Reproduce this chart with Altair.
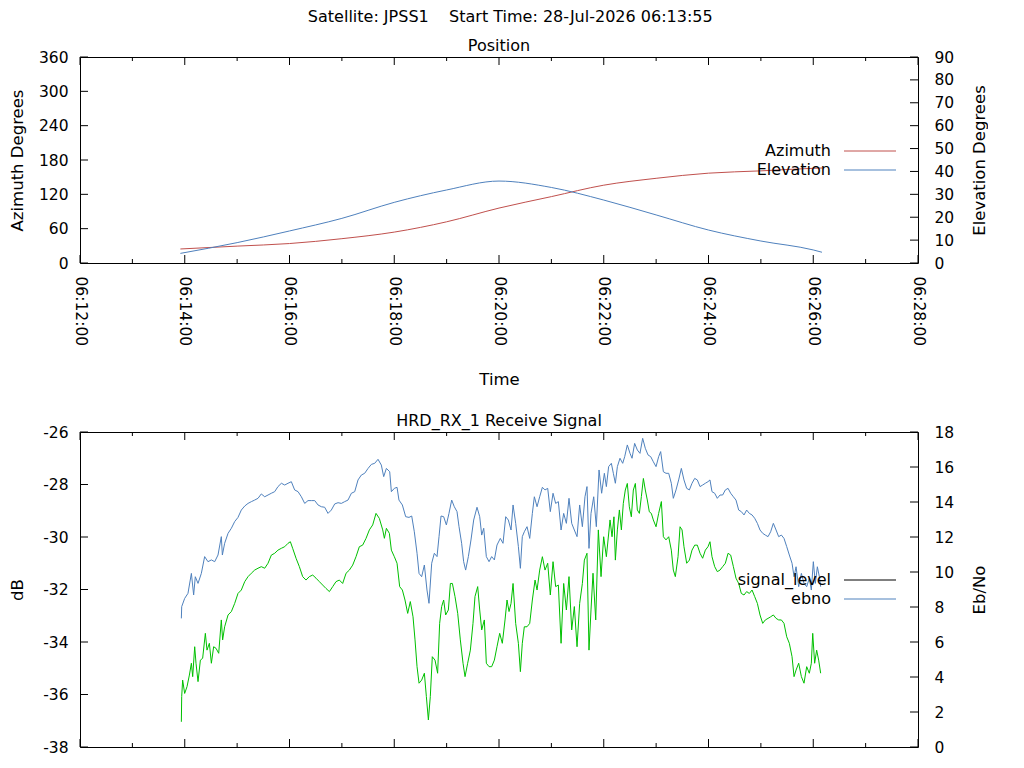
import altair as alt
import pandas as pd

BASE = pd.Timestamp("2026-07-28 06:12:00")

# ---------------- Position (seconds after 06:12:00) ----------------
pos_sec = [115, 180, 240, 300, 360, 420, 480, 540, 600, 660, 720, 780, 840, 850]
azimuth = [24.5, 29.5, 34.0, 42.5, 54.0, 72.0, 96.0, 116.0, 136.0, 148.0, 157.0, 161.0, 165.5, 166.0]
elevation = [4.2, 8.9, 14.0, 19.5, 26.5, 31.9, 35.8, 33.0, 27.5, 21.0, 14.4, 9.6, 5.7, 4.7]

# ---------------- Receive signal ----------------
ebno_sec = [
    116.1, 116.5, 119.9, 123.7, 127.6, 130.2, 132.1, 135.2, 139.0, 142.8, 146.6, 150.5, 154.3, 158.1,
    161.9, 163.1, 165.7, 169.6, 173.4, 177.2, 181.0, 184.8, 188.7, 192.5, 196.3, 200.1, 203.9, 207.7,
    211.6, 215.4, 219.2, 223.0, 226.8, 230.7, 234.5, 238.3, 242.1, 245.9, 249.8, 253.6, 257.4, 261.2,
    265.0, 268.9, 272.7, 276.5, 280.3, 284.1, 287.9, 291.8, 295.6, 299.4, 303.2, 307.0, 310.9, 314.7,
    318.5, 322.3, 326.1, 330.0, 333.8, 337.6, 341.4, 345.2, 347.9, 351.0, 354.8, 356.7,
    360.1, 363.2, 365.4, 369.3, 373.1, 376.9, 380.0, 383.0, 386.1, 388.4, 391.4, 394.5, 397.5, 399.8,
    402.9, 405.9, 409.0, 411.3, 413.6, 416.6, 419.7, 422.7, 425.8, 428.8, 431.9, 434.2, 437.2, 439.5,
    441.8, 444.9, 447.9, 451.0, 454.8, 457.9, 460.2, 462.5, 465.5, 468.6, 471.6, 474.7, 477.7, 481.5,
    484.6, 487.7, 490.7, 493.8, 496.1, 499.1, 502.2, 504.5, 506.7, 509.0, 512.1, 515.2, 518.2, 520.5,
    523.6, 526.6, 529.7, 532.7, 535.8, 538.8, 541.9, 544.9, 548.0, 551.1, 554.1, 557.2, 560.2, 563.3,
    566.3, 569.4, 572.4, 575.5, 578.5, 580.8, 583.1, 585.4, 588.5, 591.5, 594.6, 597.6, 600.7, 603.0,
    605.6, 608.7, 611.0, 613.3, 615.6, 618.6, 621.7, 624.0, 627.0, 630.1, 632.4, 635.4, 638.5, 641.5,
    644.6, 647.6, 650.7, 653.8, 656.8, 659.9, 662.9, 665.2, 668.3, 671.3, 674.4, 677.4, 679.7, 682.8,
    685.8, 688.9, 691.9, 695.0, 698.1, 701.1, 704.2, 707.2, 710.3, 713.3, 716.4, 719.4, 721.7, 724.0,
    727.1, 730.1, 733.2, 736.2, 739.3, 742.4, 745.4, 748.5, 751.5, 754.6, 757.6, 760.7, 763.7, 766.8,
    769.9, 772.9, 776.0, 779.0, 782.1, 785.1, 788.2, 791.2, 794.3, 797.4, 800.4, 803.5, 806.5, 809.6,
    812.6, 815.7, 818.0, 820.3, 823.3, 826.4, 829.4, 832.5, 835.5, 837.8, 840.1, 842.4, 844.7, 847.0, 848.5,
]
ebno_val = [
    7.35, 8.02, 8.49, 8.78, 9.92, 8.69, 9.73, 9.35, 9.92, 10.88, 10.59, 10.69, 10.59, 10.97,
    12.02, 10.97, 11.64, 12.21, 12.50, 12.88, 13.12, 13.54, 13.77, 13.92, 14.02, 14.11, 14.21, 14.46,
    14.30, 14.40, 14.50, 14.59, 14.88, 15.07, 14.97, 15.07, 15.16, 14.69, 14.59, 14.30, 13.92, 14.08,
    14.08, 14.08, 13.83, 13.73, 13.70, 13.35, 13.54, 13.89, 13.96, 13.92, 14.02, 14.11, 14.50, 14.59,
    15.26, 15.54, 15.64, 15.92, 16.15, 16.21, 16.44, 16.11, 15.45, 15.92, 15.73, 14.59,
    14.78, 14.84, 14.11, 13.83, 13.16, 13.12, 13.20, 12.30, 11.07, 9.92, 9.73, 10.40, 8.97, 8.21,
    10.50, 11.07, 10.88, 12.02, 13.20, 13.16, 12.69, 13.35, 14.11, 13.73, 13.45, 12.59, 11.64, 10.59,
    10.11, 10.88, 11.83, 12.97, 13.70, 13.16, 12.11, 12.50, 10.88, 10.59, 10.88, 10.69, 11.54, 11.92,
    11.64, 13.16, 12.97, 12.40, 13.83, 12.78, 11.45, 10.21, 12.02, 12.30, 12.59, 11.92, 13.35, 14.30,
    13.73, 14.30, 14.84, 14.69, 14.78, 13.45, 14.50, 13.92, 14.02, 12.40, 13.35, 12.78, 14.21, 12.78,
    12.40, 12.02, 13.83, 12.59, 14.30, 14.88, 11.35, 13.35, 14.30, 12.59, 15.83, 14.50, 15.64, 14.88,
    16.02, 16.21, 15.64, 15.07, 16.02, 16.50, 16.21, 16.59, 17.26, 16.78, 16.50, 17.35, 16.97, 16.78,
    17.64, 17.07, 16.69, 16.59, 16.30, 16.02, 16.59, 16.88, 15.73, 15.64, 15.64, 15.07, 14.21, 14.69,
    15.26, 15.92, 15.26, 14.78, 14.69, 15.07, 15.35, 15.26, 14.88, 14.97, 15.07, 15.16, 15.26, 14.59,
    14.50, 14.21, 14.40, 14.40, 14.69, 14.78, 14.50, 14.30, 14.11, 13.54, 13.45, 13.26, 13.54, 13.35,
    13.26, 13.07, 12.78, 12.40, 12.21, 12.11, 12.02, 12.30, 12.78, 12.40, 12.02, 12.11, 11.92, 11.45,
    10.97, 10.50, 9.73, 10.30, 9.16, 9.92, 9.35, 9.16, 9.64, 8.97, 10.59, 9.35, 10.30, 9.73, 9.16,
]

sig_sec = [
    116.1, 116.5, 117.6, 119.9, 122.6, 125.3, 127.6, 129.1, 131.4, 132.9, 135.2, 137.9, 140.5, 143.6,
    145.5, 148.2, 150.5, 153.1, 155.8, 158.9, 161.9, 163.4, 165.7, 169.6, 173.4, 177.2, 181.0, 184.8,
    188.7, 192.5, 196.3, 200.1, 203.9, 207.7, 211.6, 215.4, 219.2, 223.0, 226.8, 230.7, 234.5, 238.3,
    241.0, 243.6, 247.5, 251.3, 255.1, 258.9, 262.7, 266.6, 270.4, 274.2, 278.0, 281.8, 285.7, 289.5,
    293.3, 297.1, 300.9, 304.8, 308.6, 312.4, 316.2, 320.0, 323.8, 327.7, 331.5, 335.3, 339.1, 342.9,
    346.8, 348.7, 351.0, 354.4, 356.7,
    360.1, 363.2, 366.2, 369.3, 372.3, 375.4, 378.4, 381.5, 383.8, 386.1, 388.4, 391.4, 394.5, 396.8,
    399.1, 401.3, 403.6, 406.7, 409.7, 412.0, 414.3, 416.6, 418.9, 422.0, 424.3, 426.6, 429.6, 432.7,
    435.7, 438.8, 441.1, 444.1, 447.2, 450.2, 452.5, 455.6, 457.9, 460.2, 463.2, 465.5, 468.6, 471.6,
    474.7, 477.7, 480.8, 483.8, 486.9, 489.2, 491.5, 493.8, 496.1, 499.1, 502.2, 504.5, 506.7, 509.0,
    512.1, 515.2, 518.2, 521.3, 523.6, 526.6, 529.7, 532.7, 535.8, 538.8, 541.9, 544.9, 548.0, 551.1,
    554.1, 557.2, 560.2, 563.3, 566.3, 569.4, 572.4, 575.5, 577.8, 580.8, 583.1, 585.4, 587.7, 590.8,
    593.8, 596.9, 599.9, 603.0,
    607.2, 609.5, 611.7, 613.3, 615.6, 617.9, 620.2, 622.4, 624.7, 627.0, 629.3, 631.6, 633.9, 636.2,
    638.5, 640.8, 643.1, 645.4, 647.6, 649.9, 652.2, 654.5, 656.8, 659.9, 662.9, 666.0, 668.3, 671.3,
    674.4, 677.4, 679.7, 682.0, 685.1, 687.4, 689.7, 691.9, 695.0, 698.1, 701.1, 704.2, 707.2, 710.3,
    713.3, 716.4, 719.4, 721.7, 724.0, 727.1, 730.1, 733.2, 736.2, 739.3, 742.4, 745.4, 748.5, 751.5,
    754.6, 757.6, 760.7, 763.7, 766.8, 769.9, 772.9, 776.0, 779.0, 782.1, 785.1, 788.2, 791.2, 794.3,
    797.4, 800.4, 803.5, 806.5, 809.6, 812.6, 815.7, 818.0, 820.3, 823.3, 826.4, 829.4, 832.5, 835.5,
    837.8, 839.4, 841.6, 843.9, 846.2, 848.5,
]
sig_val = [
    -37.04, -36.08, -35.45, -35.96, -35.70, -35.26, -34.81, -35.32, -34.18, -34.81, -35.51, -34.69, -34.62, -33.67,
    -34.31, -34.05, -34.81, -34.18, -34.24, -34.43, -33.16, -33.92, -33.42, -32.97, -32.84, -32.53, -32.15, -32.02,
    -31.70, -31.51, -31.38, -31.26, -31.19, -31.13, -31.19, -31.00, -30.69, -30.62, -30.50, -30.43, -30.37, -30.24,
    -30.18, -30.43, -30.81, -31.13, -31.51, -31.64, -31.51, -31.45, -31.57, -31.70, -31.83, -31.96, -32.08, -31.89,
    -31.70, -31.64, -31.77, -31.38, -31.26, -31.07, -30.75, -30.37, -30.31, -30.05, -29.73, -29.54, -29.10, -29.29,
    -29.73, -30.05, -29.67, -29.86, -30.50,
    -30.75, -31.00, -31.89, -32.02, -32.40, -32.91, -32.46, -33.04, -33.92, -34.94, -35.57, -35.45, -35.19, -36.08,
    -36.97, -36.08, -34.56, -34.69, -35.19, -33.29, -32.65, -32.40, -32.97, -32.78, -31.77, -31.77, -32.27, -32.91,
    -33.92, -34.81, -35.32, -34.81, -34.31, -33.29, -32.27, -31.89, -32.78, -33.54, -33.16, -34.81, -34.94, -34.94,
    -34.69, -34.18, -33.67, -34.05, -33.16, -32.40, -32.84, -32.53, -31.77, -33.29, -34.05, -35.13, -34.05, -33.42,
    -33.42, -33.29, -32.40, -31.64, -32.02, -31.26, -30.75, -31.26, -31.00, -32.21, -30.94, -31.89, -31.83, -34.05,
    -31.77, -32.78, -31.51, -33.54, -32.65, -34.18, -32.53, -31.77, -30.88, -30.62, -34.31, -32.78, -31.38, -33.16,
    -29.73, -31.51, -29.99, -30.75,
    -29.35, -29.99, -29.23, -30.88, -29.73, -28.97, -29.73, -28.72, -28.21, -27.96, -28.85, -29.23, -28.21, -27.96,
    -28.97, -29.10, -28.46, -27.77, -28.21, -28.59, -29.04, -29.10, -29.35, -29.61, -29.10, -28.65, -29.99, -30.11,
    -29.99, -30.50, -31.26, -31.51, -30.75, -29.61, -29.73, -30.37, -31.00, -30.88, -30.50, -30.31, -30.31, -30.62,
    -30.81, -30.50, -30.37, -30.18, -30.75, -31.13, -31.32, -31.26, -31.13, -31.00, -30.62, -30.69, -31.13, -31.57,
    -31.77, -32.15, -32.21, -32.08, -32.15, -32.02, -32.27, -32.53, -32.97, -33.29, -33.16, -33.10, -33.04, -32.97,
    -33.10, -33.16, -33.16, -33.29, -33.80, -34.05, -34.56, -35.32, -35.07, -34.81, -35.32, -35.57, -34.94, -35.19,
    -34.81, -33.67, -34.81, -34.31, -34.69, -35.19,
]

# ---------------- Axis ticks / labels ----------------
x_major = ["06:12:00", "06:14:00", "06:16:00", "06:18:00", "06:20:00",
           "06:22:00", "06:24:00", "06:26:00", "06:28:00"]
x_minor = ["06:13:00", "06:15:00", "06:17:00", "06:19:00",
           "06:21:00", "06:23:00", "06:25:00", "06:27:00"]
az_ticks = [0, 60, 120, 180, 240, 300, 360]
el_ticks = [0, 10, 20, 30, 40, 50, 60, 70, 80, 90]
db_ticks = [-38, -36, -34, -32, -30, -28, -26]
ebno_ticks = [0, 2, 4, 6, 8, 10, 12, 14, 16, 18]

TITLE = "Satellite: JPSS1\u00a0\u00a0\u00a0\u00a0Start Time: 28-Jul-2026 06:13:55"
TITLE_TOP = "Position"
TITLE_BOTTOM = "HRD_RX_1 Receive Signal"

RED = "#c0504d"
BLUE = "#4f81bd"
GREEN = "#00c000"
FONT = "DejaVu Sans"
FS = 15.5       # tick labels
FS_T = 16       # chart titles and legend
FS_AX = 16.5    # axis titles
W, H1, H2 = 838, 206, 315
MAJ, MIN = 8, 4


def iso(sec):
    t = BASE + pd.Timedelta(seconds=sec)
    return t.strftime("%Y-%m-%dT%H:%M:%S.") + f"{t.microsecond // 1000:03d}"


def clock(s):
    return "2026-07-28T" + s


def dt(s):
    h, m, sec = (int(p) for p in s.split(":"))
    return alt.DateTime(year=2026, month=7, date=28, hours=h, minutes=m, seconds=sec)


XDOM = [dt(x_major[0]), dt(x_major[-1])]


def xenc(axis):
    return alt.X("t:T", scale=alt.Scale(domain=XDOM), axis=axis)


def xticks(H, axis):
    out = []
    for vals, ln in ((x_major, MAJ), (x_minor, MIN)):
        df = pd.DataFrame({"t": [clock(v) for v in vals]})
        base = alt.Chart(df).mark_rule(color="black", strokeWidth=1)
        out.append(base.encode(x=xenc(axis), y=alt.value(0), y2=alt.value(ln)))
        out.append(base.encode(x=xenc(axis), y=alt.value(H - ln), y2=alt.value(H)))
    return out


def yticks(vals, dom, side, field, yaxis):
    df = pd.DataFrame({field: vals})
    x0, x1 = (0, MAJ) if side == "left" else (W - MAJ, W)
    return alt.Chart(df).mark_rule(color="black", strokeWidth=1).encode(
        y=alt.Y(f"{field}:Q", scale=alt.Scale(domain=dom), axis=yaxis),
        x=alt.value(x0), x2=alt.value(x1))


def legend(label, color, y):
    df = pd.DataFrame({"label": [label]})
    txt = alt.Chart(df).mark_text(align="right", baseline="middle", font=FONT,
                                  fontSize=FS_T, color="black").encode(
        text="label:N", x=alt.value(751), y=alt.value(y))
    line = alt.Chart(df).mark_rule(color=color, strokeWidth=1).encode(
        x=alt.value(764), x2=alt.value(816), y=alt.value(y))
    return [txt, line]


def left_axis(vals, title):
    return alt.Axis(orient="left", values=vals, ticks=False, tickSize=0, domain=False,
                    grid=False, labelPadding=12, minExtent=41, maxExtent=41,
                    title=title, titlePadding=14, labelExpr="'' + datum.value")


def right_axis(vals, title):
    return alt.Axis(orient="right", values=vals, ticks=False, tickSize=0, domain=False,
                    grid=False, labelPadding=16, minExtent=34, maxExtent=34,
                    title=title, titleAngle=270, titleBaseline="top", titlePadding=19,
                    labelExpr="'' + datum.value")


time_axis = alt.Axis(values=[dt(v) for v in x_major], format="%H:%M:%S", labelAngle=90,
                     labelAlign="left", labelBaseline="middle",
                     labelFlush=False, labelOverlap=False, ticks=False, tickSize=0,
                     domain=False, grid=False, labelPadding=13, title="Time",
                     titlePadding=25, minExtent=83, maxExtent=83)

# ---------------- Top chart ----------------
pos_df = pd.DataFrame({"t": [iso(s) for s in pos_sec], "azimuth": azimuth, "elevation": elevation})
az_axis = left_axis(az_ticks, "Azimuth Degrees")
el_axis = right_axis(el_ticks, "Elevation Degrees")

az_line = alt.Chart(pos_df).mark_line(color=RED, strokeWidth=1, interpolate="monotone").encode(
    x=xenc(time_axis),
    y=alt.Y("azimuth:Q", scale=alt.Scale(domain=[0, 360]), axis=az_axis))
el_line = alt.Chart(pos_df).mark_line(color=BLUE, strokeWidth=1, interpolate="monotone").encode(
    x=xenc(time_axis),
    y=alt.Y("elevation:Q", scale=alt.Scale(domain=[0, 90]), axis=el_axis))

top_left = alt.layer(az_line, yticks(az_ticks, [0, 360], "left", "azimuth", az_axis),
                     *xticks(H1, time_axis))
top_right = alt.layer(el_line, yticks(el_ticks, [0, 90], "right", "elevation", el_axis),
                      *legend("Azimuth", RED, 94), *legend("Elevation", BLUE, 113))
top = alt.layer(top_left, top_right).resolve_scale(y="independent").properties(
    width=W, height=H1, title=alt.TitleParams(TITLE_TOP, offset=-4))

# ---------------- Bottom chart ----------------
sig_df = pd.DataFrame({"t": [iso(s) for s in sig_sec], "signal_level": sig_val})
ebno_df = pd.DataFrame({"t": [iso(s) for s in ebno_sec], "ebno": ebno_val})
db_axis = left_axis(db_ticks, "dB")
eb_axis = right_axis(ebno_ticks, "Eb/No")

sig_line = alt.Chart(sig_df).mark_line(color=GREEN, strokeWidth=1).encode(
    x=xenc(None),
    y=alt.Y("signal_level:Q", scale=alt.Scale(domain=[-38, -26]), axis=db_axis))
ebno_line = alt.Chart(ebno_df).mark_line(color=BLUE, strokeWidth=1).encode(
    x=xenc(None),
    y=alt.Y("ebno:Q", scale=alt.Scale(domain=[0, 18]), axis=eb_axis))

bot_left = alt.layer(sig_line, yticks(db_ticks, [-38, -26], "left", "signal_level", db_axis),
                     *xticks(H2, None))
bot_right = alt.layer(ebno_line, yticks(ebno_ticks, [0, 18], "right", "ebno", eb_axis),
                      *legend("signal_level", "black", 148), *legend("ebno", BLUE, 167))
bottom = alt.layer(bot_left, bot_right).resolve_scale(y="independent").properties(
    width=W, height=H2, title=alt.TitleParams(TITLE_BOTTOM, offset=-4))

chart = alt.vconcat(top, bottom, spacing=24).properties(
    title=alt.TitleParams(TITLE, anchor="middle", dx=12, offset=13),
    padding={"left": 0, "top": 0, "right": 0, "bottom": 0},
).configure_view(
    stroke="black", strokeWidth=1
).configure_axis(
    labelFont=FONT, titleFont=FONT, labelFontSize=FS, titleFontSize=FS_AX,
    labelColor="black", titleColor="black", titleFontWeight="normal"
).configure_title(
    font=FONT, fontSize=FS_T, fontWeight="normal", color="black"
)

chart.save("out.html", embed_options={"renderer": "svg", "actions": False})
